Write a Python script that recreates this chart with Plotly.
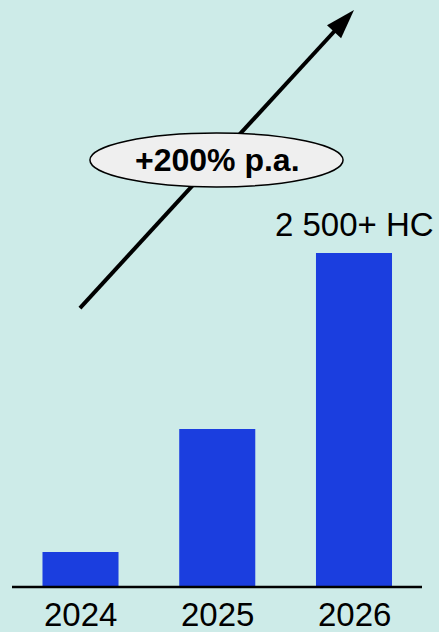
import plotly.graph_objects as go

years = ["2024", "2025", "2026"]
headcount = [262, 1183, 2500]
bar_label = "2 500+ HC"
growth_label = "+200% p.a."

BG = "#cdebe8"
BAR = "#1b3edf"

idx = list(range(len(years)))

fig = go.Figure()
fig.add_trace(go.Bar(x=idx, y=headcount, marker=dict(color=BAR, line=dict(width=0)),
                     width=0.556, hoverinfo="skip"))

# growth arrow (as trace so the ellipse sits on top of it)
fig.add_trace(go.Scatter(x=[-0.004, 2.0], y=[2088, 4319], mode="lines+markers",
                         line=dict(color="black", width=4),
                         marker=dict(symbol=["circle", "arrow"], size=[0, 31], angleref="previous",
                                     color="black", opacity=1, line=dict(width=0)),
                         hoverinfo="skip"))

# baseline
fig.add_shape(type="line", xref="paper", yref="y", x0=12/439, x1=422/439, y0=0, y1=0,
              line=dict(color="black", width=2.5))

# year labels
for i, yr in zip(idx, years):
    fig.add_annotation(x=i, y=0, yref="y", text=yr, showarrow=False, yanchor="top", yshift=-7,
                       font=dict(family="Liberation Sans, Arial", size=33, color="black"))

# top bar label
fig.add_annotation(x=idx[-1], y=headcount[-1], text=bar_label, showarrow=False, yanchor="bottom",
                   yshift=8, font=dict(family="Liberation Sans, Arial", size=33, color="black"))

# ellipse label
fig.add_shape(type="circle", xref="x", yref="y", x0=0.069, x1=1.92, y0=2994, y1=3398,
              fillcolor="#efefef", line=dict(color="black", width=1.5), layer="above")
fig.add_annotation(x=1.0, y=3196, text="<b>" + growth_label + "</b>", showarrow=False,
                   font=dict(family="Liberation Sans, Arial", size=32, color="black"))

fig.update_layout(
    width=439, height=632, margin=dict(l=0, r=0, t=0, b=0),
    paper_bgcolor=BG, plot_bgcolor=BG, showlegend=False,
    xaxis=dict(range=[-0.5887, 2.6216], showticklabels=False, showgrid=False,
               zeroline=False, showline=False, ticks=""),
    yaxis=dict(range=[-336.8, 4393.7], showticklabels=False, showgrid=False, zeroline=False,
               showline=False, ticks=""),
)
fig.write_html("out.html", config={"displayModeBar": False},
               post_script="document.body.style.margin='0';")
